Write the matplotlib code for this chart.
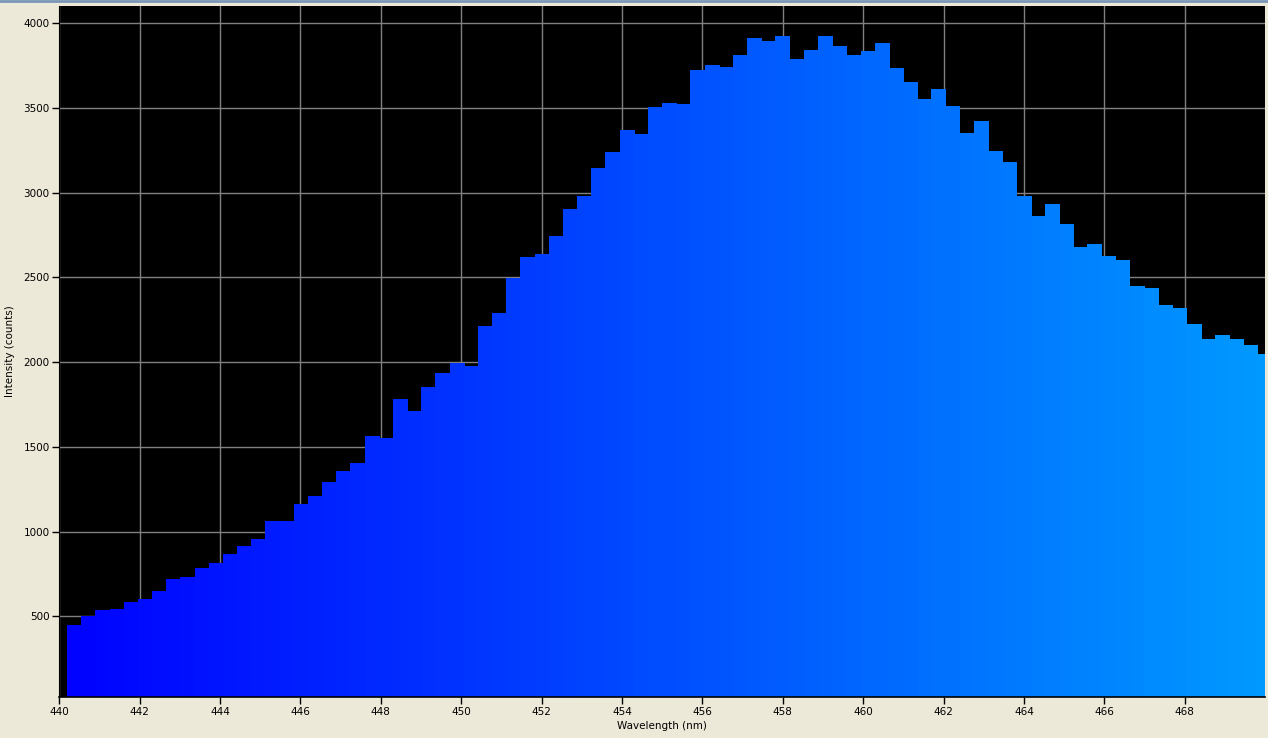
"""
Emission spectrum of a blue LED, drawn like the spectrometer software view:
black plot area, grey grid, bars coloured from blue to light blue by wavelength.
"""
import matplotlib as mpl
import matplotlib.pyplot as plt
from matplotlib.colors import LinearSegmentedColormap

wavelength_nm = [
    440.37, 440.72, 441.07, 441.43, 441.78, 442.13, 442.48, 442.84, 443.19, 443.54,
    443.89, 444.25, 444.60, 444.95, 445.30, 445.66, 446.01, 446.36, 446.71, 447.07,
    447.42, 447.77, 448.12, 448.48, 448.83, 449.18, 449.53, 449.89, 450.24, 450.59,
    450.94, 451.30, 451.65, 452.00, 452.35, 452.71, 453.06, 453.41, 453.76, 454.12,
    454.47, 454.82, 455.17, 455.53, 455.88, 456.23, 456.58, 456.94, 457.29, 457.64,
    457.99, 458.35, 458.70, 459.05, 459.40, 459.76, 460.11, 460.46, 460.81, 461.17,
    461.52, 461.87, 462.22, 462.58, 462.93, 463.28, 463.63, 463.99, 464.34, 464.69,
    465.04, 465.40, 465.75, 466.10, 466.45, 466.81, 467.16, 467.51, 467.86, 468.22,
    468.57, 468.92, 469.27, 469.63, 469.98,
]
counts = [
    449, 502, 537, 543, 586, 602, 649, 720, 732, 785,
    815, 868, 915, 956, 1063, 1063, 1163, 1210, 1293, 1358,
    1405, 1564, 1552, 1783, 1712, 1853, 1936, 1995, 1977, 2213,
    2290, 2497, 2621, 2638, 2745, 2904, 2981, 3146, 3240, 3370,
    3346, 3506, 3530, 3524, 3724, 3754, 3742, 3813, 3913, 3896,
    3925, 3789, 3842, 3925, 3866, 3813, 3837, 3884, 3736, 3654,
    3553, 3612, 3512, 3353, 3423, 3246, 3181, 2981, 2863, 2933,
    2815, 2680, 2698, 2627, 2603, 2450, 2438, 2337, 2320, 2225,
    2137, 2160, 2137, 2101, 2048,
]
x_ticks = [440, 442, 444, 446, 448, 450, 452, 454, 456, 458, 460, 462, 464, 466, 468]
y_ticks = [500, 1000, 1500, 2000, 2500, 3000, 3500, 4000]

BIN_WIDTH = 0.3524
BG = "#ECE9D8"

mpl.rcParams.update({
    "font.family": "DejaVu Sans", "font.size": 7.5,
    "xtick.labelsize": 7.5, "ytick.labelsize": 7.5,
})

spectrum_cmap = LinearSegmentedColormap.from_list("led", ["#0000FF", "#0099FF"])

fig = plt.figure(figsize=(12.68, 7.38), dpi=100, facecolor=BG)
ax = fig.add_axes([0.0468, 0.0556, 0.9509, 0.9363], facecolor="black")

x_lo, x_hi = 440, 470
colors = [spectrum_cmap((w - x_lo) / (x_hi - x_lo)) for w in wavelength_nm]
# edge in the same colour closes the hairline gaps between neighbouring bins
ax.bar(wavelength_nm, counts, width=BIN_WIDTH, color=colors, edgecolor=colors,
       linewidth=0.6, antialiased=False, zorder=2)

ax.set_xlim(x_lo, x_hi)
ax.set_ylim(25, 4100)
ax.set_xticks(x_ticks)
ax.set_yticks(y_ticks)
ax.grid(True, color="#808080", linewidth=1.0, zorder=0)
ax.set_axisbelow(True)
ax.tick_params(direction="out", length=5, width=1, color="black", pad=2)

for side in ("top", "right"):
    ax.spines[side].set_visible(False)
ax.spines["left"].set_color("black")
ax.spines["bottom"].set_color("black")
ax.spines["bottom"].set_linewidth(1.2)

ax.set_xlabel("Wavelength (nm)", labelpad=3)
ax.set_ylabel("Intensity (counts)", labelpad=6)

# thin window border along the top of the capture
fig.add_artist(plt.Line2D([0, 1], [0.998, 0.998], color="#7A96B8", linewidth=2,
                          transform=fig.transFigure))

fig.savefig("out.png", dpi=100, facecolor=BG)
